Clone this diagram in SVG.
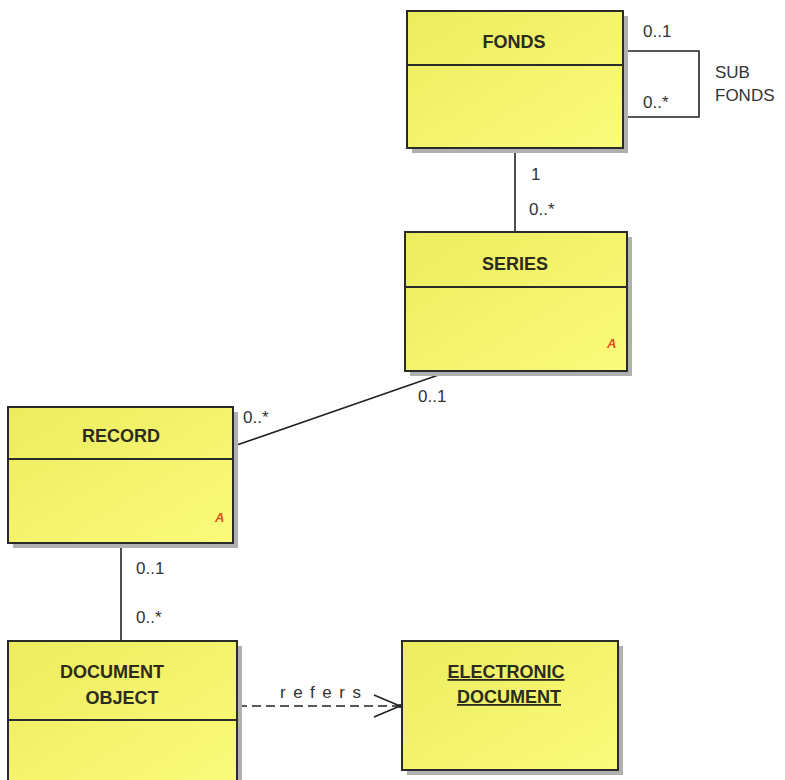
<svg xmlns="http://www.w3.org/2000/svg" width="785" height="780" viewBox="0 0 785 780">
<defs>
<linearGradient id="yg" x1="0" y1="0" x2="1" y2="1">
<stop offset="0" stop-color="#ecec5e"/>
<stop offset="1" stop-color="#fbfb7c"/>
</linearGradient>
<style>
.box{fill:url(#yg);stroke:#2a2a2a;stroke-width:2}
.sh{fill:#b0b0b0}
.div{stroke:#2a2a2a;stroke-width:2}
.name{font-family:"Liberation Sans",Arial,sans-serif;font-weight:bold;font-size:18px;fill:#2b2b20;text-anchor:middle}
.lbl{font-family:"Liberation Sans",Arial,sans-serif;font-size:17px;fill:#333}
.abs{font-family:"Liberation Sans",Arial,sans-serif;font-style:italic;font-weight:bold;font-size:13px;fill:#e05020}
.ln{stroke:#222;stroke-width:1.6;fill:none}
</style>
</defs>
<rect width="785" height="780" fill="#fff"/>
<g id="connectors">
<polyline class="ln" points="623,51 699,51 699,117 623,117"/>
<line class="ln" x1="515" y1="148" x2="515" y2="232"/>
<line class="ln" x1="234" y1="446" x2="450" y2="371"/>
<line class="ln" x1="121" y1="543" x2="121" y2="641"/>
<line class="ln" x1="238" y1="706" x2="398" y2="706" stroke-dasharray="9,5"/>
<polyline class="ln" points="374,695 400,706 374,717"/>
<circle cx="400" cy="706" r="2" fill="#222"/>
<text class="lbl" x="643" y="37">0..1</text>
<text class="lbl" x="643" y="108">0..*</text>
<text class="lbl" x="715" y="78">SUB</text>
<text class="lbl" x="715" y="101">FONDS</text>
<text class="lbl" x="531" y="180">1</text>
<text class="lbl" x="529" y="215">0..*</text>
<text class="lbl" x="243" y="423">0..*</text>
<text class="lbl" x="418" y="402">0..1</text>
<text class="lbl" x="136" y="574">0..1</text>
<text class="lbl" x="136" y="623">0..*</text>
<text class="lbl" x="280" y="698" font-size="16" letter-spacing="7.5">refers</text>
</g>
<g id="fonds">
<rect class="sh" x="412" y="16" width="216" height="137"/>
<rect class="box" x="407" y="11" width="216" height="137"/>
<line class="div" x1="407" y1="65" x2="623" y2="65"/>
<text class="name" x="514" y="48">FONDS</text>
</g>
<g id="series">
<rect class="sh" x="410" y="237" width="222" height="139"/>
<rect class="box" x="405" y="232" width="222" height="139"/>
<line class="div" x1="405" y1="287" x2="627" y2="287"/>
<text class="name" x="515" y="270">SERIES</text>
<text class="abs" x="607" y="348">A</text>
</g>
<g id="record">
<rect class="sh" x="13" y="412" width="225" height="136"/>
<rect class="box" x="8" y="407" width="225" height="136"/>
<line class="div" x1="8" y1="459" x2="233" y2="459"/>
<text class="name" x="121" y="442">RECORD</text>
<text class="abs" x="215" y="522">A</text>
</g>
<g id="document-object">
<rect class="sh" x="13" y="646" width="229" height="140"/>
<rect class="box" x="8" y="641" width="229" height="145"/>
<line class="div" x1="8" y1="720" x2="237" y2="720"/>
<text class="name" x="112" y="678">DOCUMENT</text>
<text class="name" x="122" y="704">OBJECT</text>
</g>
<g id="electronic-document">
<rect class="sh" x="407" y="646" width="216" height="129"/>
<rect class="box" x="402" y="641" width="216" height="129"/>
<text class="name" x="506" y="678" text-decoration="underline">ELECTRONIC</text>
<text class="name" x="509" y="703" text-decoration="underline">DOCUMENT</text>
</g>
</svg>
